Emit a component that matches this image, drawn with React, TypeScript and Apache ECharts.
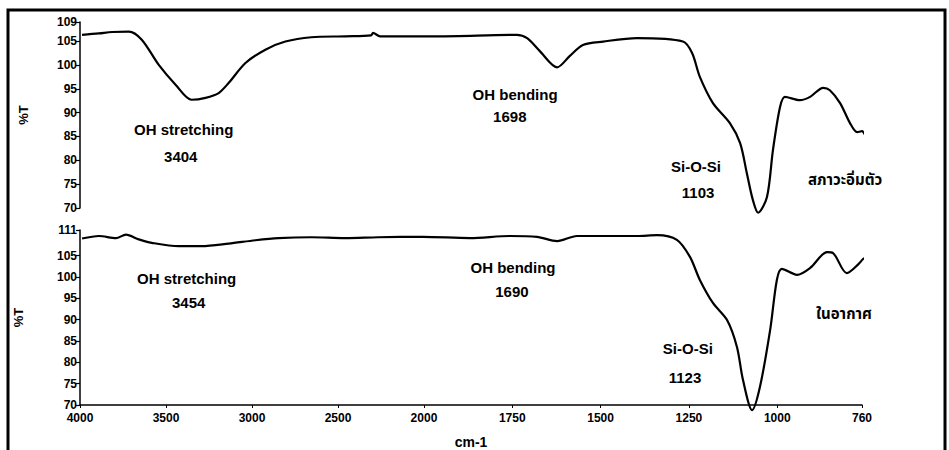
import React, { useEffect, useRef } from "react";
import * as echarts from "echarts";

// Wavenumbers (cm-1) and transmittance (%T)
const wnTop = [3988, 3890, 3814, 3716, 3641, 3542, 3443, 3351, 3270, 3194, 3136, 3038, 2922, 2806, 2655, 2458, 2307, 2296, 2255, 1963, 1737, 1708, 1672, 1623, 1587, 1550, 1493, 1397, 1267, 1241, 1219, 1182, 1134, 1105, 1086, 1069, 1054, 1029, 1012, 992, 978, 936, 907, 870, 851, 822, 794, 774, 760, 752];
const tTop = [106.3, 106.6, 106.9, 107.0, 105.3, 100.0, 95.8, 92.7, 93.1, 94.1, 96.2, 100.4, 103.2, 104.9, 105.8, 106.0, 106.2, 106.7, 106.0, 106.0, 106.3, 105.6, 102.9, 99.5, 101.9, 104.2, 104.9, 105.6, 104.9, 102.5, 97.5, 92.0, 87.8, 83.6, 77.3, 71.7, 69.0, 72.3, 82.2, 91.2, 93.3, 92.6, 93.3, 95.2, 94.7, 92.0, 87.8, 85.9, 86.1, 85.4];

const wnBot = [3988, 3890, 3791, 3733, 3658, 3583, 3426, 3293, 3136, 2980, 2846, 2655, 2458, 2267, 2006, 1870, 1757, 1680, 1623, 1567, 1397, 1340, 1284, 1247, 1219, 1182, 1142, 1114, 1097, 1071, 1049, 1020, 1001, 987, 944, 907, 859, 842, 803, 770, 757, 752];
const tBot = [109.0, 109.6, 109.1, 109.9, 108.8, 108.0, 107.2, 107.2, 107.8, 108.6, 109.1, 109.3, 109.1, 109.3, 109.4, 109.1, 109.6, 109.4, 108.4, 109.6, 109.6, 109.8, 108.7, 104.7, 99.3, 93.9, 89.9, 83.6, 75.9, 68.8, 74.2, 87.6, 99.3, 101.9, 100.5, 102.1, 105.8, 105.6, 100.9, 103.0, 104.2, 104.4];

const xTicks = [4000, 3500, 3000, 2500, 2000, 1750, 1500, 1250, 1000, 760];
const yTicksTop = [70, 75, 80, 85, 90, 95, 100, 105, 109];
const yTicksBot = [70, 75, 80, 85, 90, 95, 100, 105, 111];

// annotation texts, anchored in data units (wavenumber, %T) where they sit in the picture
const topNotes = [
  { text: "OH stretching", wn: 3397, t: 86.4 },
  { text: "3404", wn: 3414, t: 80.8 },
  { text: "OH bending", wn: 1742, t: 93.8 },
  { text: "1698", wn: 1757, t: 89.1 },
  { text: "Si-O-Si", wn: 1230, t: 78.6 },
  { text: "1103", wn: 1224, t: 73.3 },
  { text: "สภาวะอิ่มตัว", wn: 808, t: 75.9 },
];
const botNotes = [
  { text: "OH stretching", wn: 3380, t: 99.6 },
  { text: "3454", wn: 3368, t: 94.0 },
  { text: "OH bending", wn: 1748, t: 102.3 },
  { text: "1690", wn: 1751, t: 96.6 },
  { text: "Si-O-Si", wn: 1253, t: 83.3 },
  { text: "1123", wn: 1261, t: 76.4 },
  { text: "ในอากาศ", wn: 811, t: 91.4 },
];

// FTIR scale change at 2000 cm-1
const K = 1.027;
const toPos = (wn: number) => (wn >= 2000 ? (4000 - wn) / 500 : 4 + ((2000 - wn) / 250) * K);
const fromPos = (p: number) => (p <= 4.0001 ? 4000 - p * 500 : 2000 - ((p - 4) / K) * 250);
const XMAX = toPos(760);

const FONT = "'Liberation Sans', Arial, 'Noto Sans Thai', 'DejaVu Sans', sans-serif";

export default function App() {
  const ref = useRef<HTMLDivElement>(null);
  useEffect(() => {
    if (!ref.current) return;
    const chart = echarts.init(ref.current, undefined, { renderer: "svg" });
    const yAxisBase = (gi: number, max: number, ticks: number[], gap: number) => ({
      gridIndex: gi,
      type: "value",
      min: 70,
      max,
      axisLine: { show: true, lineStyle: { color: "#000", width: 1.5 } },
      axisTick: { show: true, customValues: ticks, length: 4, lineStyle: { color: "#000", width: 1.2 } },
      axisLabel: {
        customValues: ticks,
        color: "#000",
        fontWeight: "bold",
        fontSize: 12,
        fontFamily: FONT,
        margin: 3,
      },
      splitLine: { show: false },
      name: "%T",
      nameLocation: "middle",
      nameRotate: 90,
      nameGap: gap,
      nameTextStyle: { color: "#000", fontWeight: "bold", fontSize: 13, fontFamily: FONT },
    });
    chart.setOption({
      animation: false,
      backgroundColor: "#fff",
      grid: [
        { left: 80, right: 87, top: 22, height: 186 },
        { left: 80, right: 87, top: 230, height: 175 },
      ],
      xAxis: [
        { gridIndex: 0, type: "value", min: 0, max: XMAX, show: false },
        {
          gridIndex: 1,
          type: "value",
          min: 0,
          max: XMAX,
          axisLine: { show: true, lineStyle: { color: "#000", width: 1.5 } },
          axisTick: { show: true, customValues: xTicks.map(toPos), length: 3, lineStyle: { color: "#000" } },
          axisLabel: {
            customValues: xTicks.map(toPos),
            formatter: (v: number) => String(Math.round(fromPos(v) / 10) * 10),
            color: "#000",
            fontWeight: "bold",
            fontSize: 12,
            fontFamily: FONT,
            margin: 7,
          },
          splitLine: { show: false },
          name: "cm-1",
          nameLocation: "middle",
          nameGap: 30,
          nameTextStyle: { color: "#000", fontWeight: "bold", fontSize: 14, fontFamily: FONT },
        },
      ],
      yAxis: [yAxisBase(0, 109, yTicksTop, 50), yAxisBase(1, 111, yTicksBot, 55)],
      series: [
        {
          type: "line",
          xAxisIndex: 0,
          yAxisIndex: 0,
          data: wnTop.map((w, i) => [toPos(w), tTop[i]]),
          showSymbol: false,
          smooth: 0.3,
          clip: false,
          lineStyle: { color: "#000", width: 2.2 },
        },
        {
          type: "line",
          xAxisIndex: 1,
          yAxisIndex: 1,
          data: wnBot.map((w, i) => [toPos(w), tBot[i]]),
          showSymbol: false,
          smooth: 0.3,
          clip: false,
          lineStyle: { color: "#000", width: 2.2 },
        },
      ],
    });
    const noteText = (gi: number, n: { text: string; wn: number; t: number }) => {
      const [px, py] = chart.convertToPixel({ gridIndex: gi }, [toPos(n.wn), n.t]) as number[];
      return {
        type: "text",
        x: px,
        y: py,
        silent: true,
        style: {
          text: n.text,
          fill: "#000",
          font: `bold 15px ${FONT}`,
          align: "center",
          verticalAlign: "middle",
        },
      };
    };
    chart.setOption({
      graphic: [
        {
          type: "rect",
          shape: { x: 8, y: 10, width: 937, height: 480 },
          style: { fill: "none", stroke: "#000", lineWidth: 3 },
          silent: true,
        },
        ...topNotes.map((n) => noteText(0, n)),
        ...botNotes.map((n) => noteText(1, n)),
      ],
    });
    return () => chart.dispose();
  }, []);
  return <div ref={ref} style={{ position: "fixed", left: 0, top: 0, width: 949, height: 450 }} />;
}
